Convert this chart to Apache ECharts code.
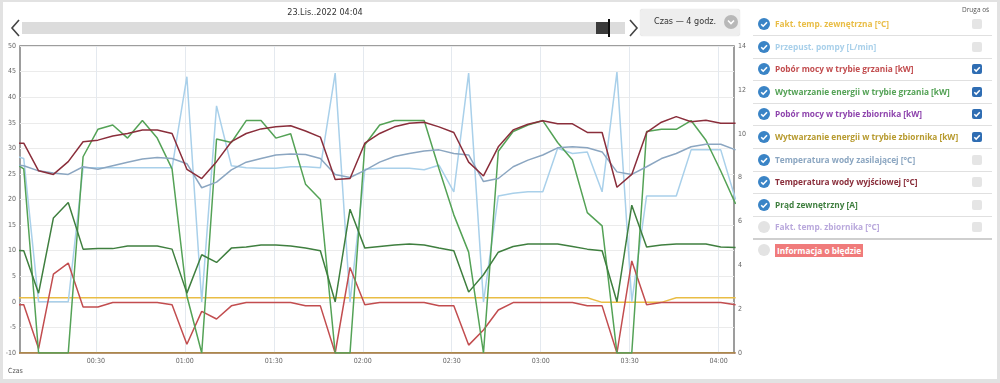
<!DOCTYPE html>
<html><head><meta charset="utf-8">
<script src="https://cdn.jsdelivr.net/npm/echarts@6/dist/echarts.min.js"></script>
<style>
html,body{margin:0;padding:0;width:1000px;height:383px;background:#e2e2e2;overflow:hidden;font-family:'Open Sans',sans-serif;}
#panel{position:absolute;left:3px;top:2px;width:994px;height:377px;background:#fff;}
#chart{position:absolute;left:0;top:0;width:1000px;height:383px;}
.abs{position:absolute;}
svg{display:block;}
.narrow{font-family:'Liberation Sans Narrow','DejaVu Sans',sans-serif;font-stretch:condensed;}
#date{left:225px;width:200px;top:7px;text-align:center;font-size:9px;color:#333;}
#track{left:22px;top:22px;width:603px;height:12px;background:#dcdcdc;}
#handle{left:596px;top:22px;width:12px;height:12px;background:#3b3b3b;}
#handleLine{left:608px;top:19px;width:2px;height:18px;background:#111;}
#dd{left:640px;top:9px;width:100px;height:27px;background:#eeeeee;border-radius:3px;box-shadow:0 0 1px #ccc;}
#ddText{left:14px;top:7px;font-size:9px;color:#333;white-space:nowrap;}
#ddCirc{left:84px;top:6px;width:14px;height:14px;border-radius:7px;background:#b8b8b8;}
.row{position:absolute;left:750px;width:245px;height:22px;}
.sep{position:absolute;left:753px;width:239px;height:1px;background:#e0e0e0;}
.lbl{position:absolute;left:25px;top:4px;font-size:8.3px;line-height:14px;font-weight:700;white-space:nowrap;}
.ico{position:absolute;left:8px;top:5px;}
.cb{position:absolute;left:222px;top:6px;width:10px;height:10px;border-radius:2px;}
#druga{left:962px;top:5px;font-size:6.5px;color:#555;}
#czas{left:8px;top:367px;font-size:7px;color:#555;}
</style></head>
<body>
<div id="panel"></div>
<div id="chart"></div>
<div class="abs narrow" id="date">23.Lis..2022 04:04</div>
<div class="abs" id="track"></div>
<div class="abs" id="handle"></div>
<div class="abs" id="handleLine"></div>
<svg class="abs" style="left:8px;top:18px" width="14" height="20"><polyline points="11,2 4,10 11,18" fill="none" stroke="#444" stroke-width="1.6"/></svg>
<svg class="abs" style="left:627px;top:18px" width="14" height="20"><polyline points="3,2 10,10 3,18" fill="none" stroke="#444" stroke-width="1.6"/></svg>
<div class="abs" id="dd"><div class="abs narrow" id="ddText">Czas — 4 godz.</div><div class="abs" id="ddCirc"><svg width="14" height="14"><polyline points="4,5.5 7,8.5 10,5.5" fill="none" stroke="#fff" stroke-width="1.6"/></svg></div></div>
<div class="abs" id="druga">Druga oś</div>
<div class="abs narrow" id="czas">Czas</div>
<div id="legend"></div>
<script>
// ---- data ----
const day = '2022-11-23';
const times = ['00:00:42','00:05:42','00:10:42','00:15:42','00:20:42','00:25:42','00:30:42','00:35:42','00:40:42','00:45:42',
'00:50:42','00:55:42','01:00:42','01:05:42','01:10:42','01:15:42','01:20:42','01:25:42','01:30:42','01:35:42',
'01:40:42','01:45:42','01:50:42','01:55:42','02:00:42','02:05:42','02:10:42','02:15:42','02:20:42','02:25:42',
'02:30:42','02:35:42','02:40:42','02:45:42','02:50:42','02:55:42','03:00:42','03:05:42','03:10:42','03:15:42',
'03:20:42','03:25:42','03:30:42','03:35:42','03:40:42','03:45:42','03:50:42','03:55:42','04:00:42','04:05:42'];
const xTickLabels = ['00:30','01:00','01:30','02:00','02:30','03:00','03:30','04:00'];
const xRange = ['00:04:26','04:05:10'];

const outsideTemp = [0.8,0.8,0.8,0.8,0.8,0.8,0.8,0.8,0.8,0.8, 0.8,0.8,0.8,0.8,0.8,0.8,0.8,0.8,0.8,0.8,
0.8,0.8,0.8,0.8,0.8,0.8,0.8,0.8,0.8,0.8, 0.8,0.8,0.8,0.8,0.8,0.8,0.8,0.8,0.8,0.8,
-0.1,-0.1,-0.1,-0.1,-0.1,0.8,0.8,0.8,0.8,0.8];
const pumpFlow = [29.0,28.0,0,0,0,26.2,26.2,26.2,26.2,26.2, 26.2,26.2,44.0,0,38.3,26.6,26.2,26.1,26.1,26.4,
26.4,26.2,44.7,0,25.9,26.1,26.1,26.1,25.8,26.7, 21.5,44.7,0,20.7,21.2,21.5,21.5,30.0,29.0,29.3,
21.5,44.9,0,20.7,20.7,20.7,29.7,29.7,29.7,20.0];
const powerHeating = [2.2,2.2,0.2,3.6,4.1,2.1,2.1,2.3,2.3,2.3, 2.3,2.2,0.4,1.9,1.55,2.15,2.3,2.3,2.3,2.3,
2.15,2.15,0,3.9,2.2,2.3,2.3,2.3,2.3,2.15, 2.15,0.36,1.05,1.96,2.3,2.3,2.3,2.3,2.3,2.15,
2.15,0,4.2,2.2,2.3,2.3,2.3,2.3,2.3,2.2];
const energyHeating = [8.8,8.4,0,0,0,8.95,10.2,10.4,9.8,10.6, 9.8,8.4,2.6,0,9.76,9.6,10.6,10.6,9.8,10.0,
7.7,7.0,0,0,9.5,10.4,10.6,10.6,10.6,8.4, 6.3,4.6,0,9.2,10.1,10.4,10.6,9.6,8.8,6.4,
5.8,0,0,10.1,10.2,10.2,10.6,9.7,8.3,6.8];
const powerTank = [0,0,0,0,0,0,0,0,0,0, 0,0,0,0,0,0,0,0,0,0, 0,0,0,0,0,0,0,0,0,0, 0,0,0,0,0,0,0,0,0,0, 0,0,0,0,0,0,0,0,0,0];
const energyTank = [0,0,0,0,0,0,0,0,0,0, 0,0,0,0,0,0,0,0,0,0, 0,0,0,0,0,0,0,0,0,0, 0,0,0,0,0,0,0,0,0,0, 0,0,0,0,0,0,0,0,0,0];
const supplyTemp = [26.9,26.6,25.6,25.2,24.9,26.4,25.9,26.6,27.3,27.9, 28.2,28.0,27.0,22.3,23.4,25.8,27.3,28.0,28.7,28.9,
28.8,28.0,24.9,24.3,25.7,27.3,28.4,29.0,29.5,29.7, 29.0,28.7,23.5,24.1,26.4,27.7,28.7,30.1,30.3,30.1,
29.3,25.4,24.9,26.4,28.0,29.0,30.3,30.8,30.8,29.7];
const outletTemp = [31.0,31.0,25.6,24.9,27.4,31.3,31.6,32.4,32.9,33.6, 33.6,32.9,25.9,24.1,27.4,31.3,32.9,33.8,34.2,34.4,
33.4,32.2,23.9,24.1,31.0,32.9,34.2,34.9,35.1,34.2, 33.1,27.3,24.6,30.3,33.6,34.7,35.4,34.8,34.8,33.1,
33.1,22.4,24.9,33.1,35.1,36.2,35.2,35.5,34.9,34.9];
const extCurrent = [10.1,10.0,1.7,16.4,19.4,10.3,10.4,10.4,10.9,10.9, 10.9,10.3,1.7,9.2,7.7,10.5,10.7,11.1,11.1,10.9,
10.5,10.0,0,18.1,10.5,10.8,11.1,11.3,11.1,10.5, 10.0,1.9,5.3,9.7,10.8,11.3,11.3,11.3,10.8,10.3,
10.0,0,18.9,10.7,11.1,11.3,11.3,11.3,10.7,10.6];

const seriesNames = ['Fakt. temp. zewnętrzna [°C]','Przepust. pompy [L/min]','Pobór mocy w trybie grzania [kW]',
'Wytwarzanie energii w trybie grzania [kW]','Pobór mocy w trybie zbiornika [kW]','Wytwarzanie energii w trybie zbiornika [kW]',
'Temperatura wody zasilającej [°C]','Temperatura wody wyjściowej [°C]','Prąd zewnętrzny [A]','Fakt. temp. zbiornika [°C]','Informacja o błędzie'];
const seriesValues = [outsideTemp,pumpFlow,powerHeating,energyHeating,powerTank,energyTank,supplyTemp,outletTemp,extCurrent,null,null];
const secondAxis = [false,false,true,true,true,true,false,false,false,false,null];
const enabled = [true,true,true,true,true,true,true,true,true,false,false];
const seriesColors = ['#e9bd45','#a9d0ea','#c24d4f','#54a256','#8e44ad','#b79a2e','#8ba6c1','#8a2e3b','#3f7f3f','#b9a8dc','#f07b7b'];

// ---- helpers ----
function toMin(s){const p=s.split(':').map(Number);return p[0]*60+p[1]+(p[2]||0)/60;}
function fmt(m){const h=Math.floor(m/60+1e-6),mm=Math.round(m-h*60);return String(h).padStart(2,'0')+':'+String(mm).padStart(2,'0');}
const xs = times.map(toMin);
const tickVals = xTickLabels.map(toMin);
const axisFont = "'Liberation Sans Narrow','DejaVu Sans Condensed',sans-serif";

const series = [];
const drawOrder = [4,5,0,1,2,3,6,7,8];
drawOrder.forEach(function(i){
  series.push({
    name: seriesNames[i], type:'line', yAxisIndex: secondAxis[i]?1:0,
    data: xs.map(function(x,k){return [x, seriesValues[i][k]];}),
    showSymbol:false, symbol:'none', smooth:false, animation:false,
    lineStyle:{color:seriesColors[i], width:1.5}, itemStyle:{color:seriesColors[i]},
    z: 2
  });
});

const chart = echarts.init(document.getElementById('chart'), null, {renderer:'canvas'});
chart.setOption({
  animation:false,
  backgroundColor:'transparent',
  textStyle:{fontFamily:axisFont},
  grid:{left:20,right:266,top:46,bottom:30,show:true,borderColor:'#7d7d7d',borderWidth:1.5,backgroundColor:'transparent',containLabel:false},
  xAxis:{type:'value',min:toMin(xRange[0]),max:toMin(xRange[1]),
    axisLine:{show:false},
    axisTick:{show:false,customValues:tickVals},
    axisLabel:{customValues:tickVals,formatter:function(v){return fmt(v);},fontSize:7,color:'#666',margin:5,fontFamily:axisFont},
    splitLine:{show:true,lineStyle:{color:'#e4e9ef',width:1}}},
  yAxis:[
    {type:'value',min:-10,max:50,interval:5,position:'left',axisLine:{show:false},axisTick:{show:false},
     axisLabel:{fontSize:7,color:'#666',margin:4,fontFamily:axisFont},splitLine:{show:true,lineStyle:{color:'#ebebeb',width:1}}},
    {type:'value',min:0,max:14,interval:2,position:'right',axisLine:{show:false},axisTick:{show:false},
     axisLabel:{fontSize:7,color:'#666',margin:4,fontFamily:axisFont},splitLine:{show:false}}
  ],
  series: series
});

// ---- legend panel ----
const checkSvg = function(color, on){
  return '<svg width="12" height="12"><circle cx="6" cy="6" r="6" fill="'+(on?color:'#e3e3e3')+'"/>'+
    (on?'<polyline points="3.2,6.2 5.2,8.2 9,4.2" fill="none" stroke="#fff" stroke-width="1.6"/>':'')+'</svg>';
};
let html='';
for(let i=0;i<seriesNames.length;i++){
  const cy = 24 + 22.6*i;
  const top = cy - 11;
  html += '<div class="row" style="top:'+top+'px">';
  html += '<div class="ico">'+checkSvg('#3a84c6', enabled[i])+'</div>';
  if(i===seriesNames.length-1){
    html += '<div class="lbl" style="color:#fff;background:'+seriesColors[i]+';padding:0 2px;line-height:13px;top:4.5px;">'+seriesNames[i]+'</div>';
  } else {
    html += '<div class="lbl" style="color:'+seriesColors[i]+'">'+seriesNames[i]+'</div>';
    html += '<div class="cb" style="background:'+(secondAxis[i]?'#2f6db3':'#e5e5e5')+'">'+
      (secondAxis[i]?'<svg width="10" height="10"><polyline points="2.3,5.2 4.2,7.1 7.8,3.2" fill="none" stroke="#fff" stroke-width="1.5"/></svg>':'')+'</div>';
  }
  html += '</div>';
  if(i<seriesNames.length-1){
    const last = (i===seriesNames.length-2);
    html += '<div class="sep" style="top:'+(cy+11)+'px;'+(last?'height:2px;background:#cfcfcf;':'')+'"></div>';
  }
}
document.getElementById('legend').innerHTML = html;
</script>
</body></html>
